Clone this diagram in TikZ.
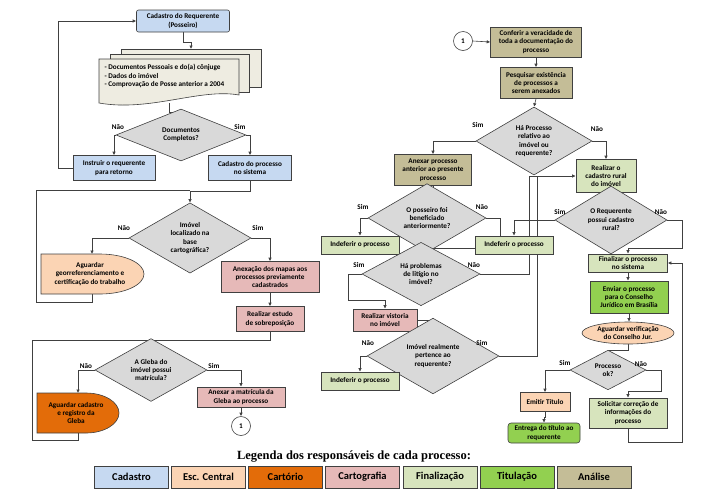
\documentclass[tikz,border=0pt]{standalone}
\usepackage{fontspec}
\setmainfont{Carlito}
\newfontfamily\legfont{Liberation Serif}
\usetikzlibrary{shapes.geometric,arrows.meta,backgrounds}
\definecolor{bd}{HTML}{404040}
\definecolor{cblue}{HTML}{C6D9F1}
\definecolor{cpeach}{HTML}{FBD4B4}
\definecolor{corange}{HTML}{E36C09}
\definecolor{cpink}{HTML}{E6B9B8}
\definecolor{clgreen}{HTML}{D7E4BD}
\definecolor{cgreen}{HTML}{92D050}
\definecolor{ctan}{HTML}{C4BD97}
\definecolor{cgray}{HTML}{D9D9D9}
\definecolor{cdoc}{HTML}{EEECE1}
\begin{document}
\begin{tikzpicture}[x=1pt,y=-1pt,
  every node/.style={font=\fontsize{7.2}{8.4}\selectfont\bfseries, text=black},
  box/.style={draw=bd, line width=0.6pt, align=center, inner sep=1pt},
  dia/.style={diamond, draw=bd, fill=cgray, line width=0.6pt, align=center, inner sep=0pt},
  ln/.style={draw=bd, line width=0.6pt},
  arr/.style={ln, -{Latex[length=3.5pt,width=3.5pt]}},
  lab/.style={font=\fontsize{7.2}{8.4}\selectfont\bfseries},
  leg/.style={draw=bd, line width=0.8pt, minimum width=74pt, minimum height=22pt, font=\fontsize{10.5}{12}\selectfont\bfseries}]
\useasboundingbox (0,0) rectangle (708,499);

% ---------- left column ----------
\node[box, rounded corners=2pt, fill=cblue, minimum width=93pt, minimum height=22pt] (cad) at (183,21) {Cadastro do Requerente\\(Posseiro)};
% document stack
\draw[ln, fill=cdoc] (121,49) rectangle (261,87);
\draw[ln, fill=cdoc] (110,54) rectangle (249,92);
\draw[ln, fill=cdoc] (99,59) -- (239,59) -- (239,95) .. controls (200,88) and (150,112) .. (99,103) -- cycle;
\node[align=left, anchor=west] (docs) at (101,76) {- Documentos Pessoais e do(a) cônjuge\\- Dados do imóvel\\- Comprovação de Posse anterior a 2004};
\coordinate (docsT) at (191,49);
\coordinate (docsB) at (169,103);
\node[dia, minimum width=130pt, minimum height=32pt] (d1) at (181,135) {Documentos\\Completos?};
\node[box, fill=cblue, minimum width=82pt, minimum height=25pt] (instr) at (114,168) {Instruir o requerente\\para retorno};
\node[box, fill=cblue, minimum width=83pt, minimum height=25pt] (cadproc) at (250,168) {Cadastro do processo\\no sistema};
\node[dia, minimum width=122pt, minimum height=62pt] (d2) at (190,238) {Imóvel\\localizado na\\base\\cartográfica?};
\draw[ln, fill=cpeach] (41,254) -- (100,254) arc[start angle=90, end angle=-90, x radius=44pt, y radius=20pt] -- (41,294) -- cycle;
\node[align=center] (aguard) at (90,274) {Aguardar\\georreferenciamento e\\certificação do trabalho};
\coordinate (aguardT) at (92,254);
\coordinate (aguardB) at (92,294);
\node[box, fill=cpink, minimum width=98pt, minimum height=31pt] (anex) at (270,277) {Anexação dos mapas aos\\processos previamente\\cadastrados};
\node[box, fill=cpink, minimum width=68pt, minimum height=25pt] (estudo) at (270,319) {Realizar estudo\\de sobreposição};
\node[dia, minimum width=112pt, minimum height=44pt] (d3) at (151,370) {A Gleba do\\imóvel possui\\matrícula?};
\draw[ln, fill=corange] (37,393) -- (86,393) arc[start angle=90, end angle=-90, x radius=33pt, y radius=20pt] -- (37,433) -- cycle;
\node[align=center] (cart) at (76,413) {Aguardar cadastro\\e registro da\\Gleba};
\coordinate (cartT) at (78,393);
\coordinate (cartB) at (78,433);
\node[box, fill=cpink, minimum width=88pt, minimum height=20pt] (anexm) at (241,397) {Anexar a matrícula da\\Gleba ao processo};
\node[circle, draw=bd, line width=0.6pt, fill=white, minimum size=19pt, inner sep=0pt] (c1) at (241,426) {1};

% ---------- right column ----------
\node[circle, draw=bd, line width=0.6pt, fill=white, minimum size=19pt, inner sep=0pt] (c1b) at (463,41) {1};
\node[box, fill=ctan, minimum width=91pt, minimum height=30pt] (conf) at (536,42) {Conferir a veracidade de\\toda a documentação  do\\processo};
\node[box, fill=ctan, minimum width=72pt, minimum height=31pt] (pesq) at (536,83) {Pesquisar existência\\de processos  a\\serem anexados};
\node[dia, minimum width=116pt, minimum height=57pt] (d4) at (534,141) {Há Processo\\relativo ao\\imóvel ou\\requerente?};
\node[box, fill=ctan, minimum width=77pt, minimum height=31pt] (anexp) at (433,170) {Anexar processo\\anterior ao presente\\processo};
\node[box, fill=clgreen, minimum width=60pt, minimum height=33pt] (realcad) at (606,176) {Realizar o\\cadastro rural\\do imóvel};
\node[dia, minimum width=118pt, minimum height=44pt] (d5) at (427,218) {O posseiro foi\\beneficiado\\anteriormente?};
\node[dia, minimum width=112pt, minimum height=40pt] (d6) at (611,220) {O Requerente\\possui cadastro\\rural?};
\node[box, fill=clgreen, minimum width=78pt, minimum height=18pt] (indef1) at (360,245) {Indeferir o processo};
\node[box, fill=clgreen, minimum width=78pt, minimum height=18pt] (indef2) at (514,245) {Indeferir o processo};
\node[dia, minimum width=118pt, minimum height=41pt] (d7) at (421,274) {Há problemas\\de litígio no\\imóvel?};
\node[box, fill=cpink, minimum width=64pt, minimum height=22pt] (vist) at (385,320) {Realizar vistoria\\no imóvel};
\node[dia, minimum width=132pt, minimum height=40pt] (d8) at (433,356) {Imóvel realmente\\pertence ao\\requerente?};
\node[box, fill=clgreen, minimum width=78pt, minimum height=18pt] (indef3) at (360,381) {Indeferir o processo};
\node[box, fill=clgreen, minimum width=79pt, minimum height=18pt] (final) at (628,263) {Finalizar o processo\\no sistema};
\node[box, fill=cgreen, minimum width=78pt, minimum height=32pt] (env) at (629,297) {Enviar o processo\\para o Conselho\\Jurídico em Brasília};
\node[ellipse, draw=bd, line width=0.6pt, fill=cpeach, minimum width=92pt, minimum height=22pt, inner sep=0pt, align=center] (aguardv) at (628,333) {Aguardar verificação\\do Conselho Jur.};
\node[dia, minimum width=76pt, minimum height=28pt] (d9) at (608,370) {Processo\\ok?};
\node[box, fill=cpeach, minimum width=50pt, minimum height=19pt] (emit) at (545,402) {Emitir Título};
\node[box, rounded corners=3pt, fill=cgreen, minimum width=72pt, minimum height=20pt] (entrega) at (544,433) {Entrega do título ao\\requerente};
\node[box, fill=clgreen, minimum width=78pt, minimum height=30pt] (solic) at (628,413) {Solicitar correção  de\\informações do\\processo};

% labels
\node[lab] at (118,127) {Não};
\node[lab] at (240,127) {Sim};
\node[lab] at (124,228) {Não};
\node[lab] at (258,228) {Sim};
\node[lab] at (86,366) {Não};
\node[lab] at (214,366) {Sim};
\node[lab] at (478,125) {Sim};
\node[lab] at (597,129) {Não};
\node[lab] at (363,207) {Sim};
\node[lab] at (482,207) {Não};
\node[lab] at (560,212) {Sim};
\node[lab] at (661,212) {Não};
\node[lab] at (359,265) {Sim};
\node[lab] at (474,265) {Não};
\node[lab] at (368,343) {Não};
\node[lab] at (482,343) {Sim};
\node[lab] at (565,363) {Sim};
\node[lab] at (641,364) {Não};

% ---------- connectors ----------
\begin{pgfonlayer}{background}
\draw[arr] (instr.west) -- (58,168) |- (cad.west);
\draw[arr] (cad.south) -- ++(0,10) -| (docsT);
\draw[arr] (docsB) -- (169,112) -| (d1.north);
\draw[arr] (d1.west) -| (instr.north);
\draw[arr] (d1.east) -| (cadproc.north);
\draw[arr] (cadproc.south) -- ++(0,10) -| (d2.north);
\draw[ln] (aguardB) -- (92,302) -- (36,302) -- (36,190) -- (190,190);
\draw[arr] (d2.west) -| (aguardT);
\draw[arr] (d2.east) -| (anex.north);
\draw[arr] (anex.south) -- (estudo.north);
\draw[arr] (estudo.south) -- ++(0,8) -| (d3.north);
\draw[ln] (cartB) -- (78,440) -- (32,440) -- (32,340) -- (151,340);
\draw[arr] (d3.west) -| (cartT);
\draw[arr] (d3.east) -| (anexm.north);
\draw[arr] (anexm.south) -- (c1.north);

\draw[arr] (c1b.east) -- (conf.west);
\draw[arr] (conf.south) -- (pesq.north);
\draw[arr] (pesq.south) -- (d4.north);
\draw[arr] (d4.west) -| (anexp.north);
\draw[arr] (d4.east) -| (realcad.north);
\draw[arr] (anexp.south) -- ++(0,5) -| (d5.north);
\draw[arr] (d5.west) -| (indef1.north);
\draw[arr] (d5.east) -- (500,218) -- (500,248) -| (d7.north);
\draw[arr] (realcad.south) -- ++(0,6) -| (d6.north);
\draw[arr] (d6.west) -| (indef2.north);
\draw[arr] (d6.east) -- (682,220) -- (682,248) -| (final.north);
\draw[arr] (d7.east) -- (529,274) |- (realcad.west);
\draw[ln] (d8.east) -- (537,356) -- (537,176);
\draw[arr] (d7.west) -- (348,274) -- (348,300) -| (vist.north);
\draw[arr] (vist.east) -| (d8.north);
\draw[arr] (d8.west) -| (indef3.north);
\draw[arr] (final.south) -- (final.south |- env.north);
\draw[arr] (env.south) -- (env.south |- aguardv.north);
\draw[arr] (aguardv.south) -- ++(0,6) -| (d9.north);
\draw[arr] (d9.west) -| (emit.north);
\draw[arr] (d9.east) -- (661,370) -- (661,391) -| (solic.north);
\draw[arr] (emit.south) -- ++(0,5) -| (entrega.north);
\draw[arr] (solic.south) -- (628,442) -- (682,442) |- (final.east);
\end{pgfonlayer}

% ---------- legend ----------
\node[font=\legfont\bfseries\fontsize{12.5}{14}\selectfont] (legt) at (354,457) {Legenda dos responsáveis de cada processo:};
\node[leg, fill=cblue] (l1) at (131.5,477) {Cadastro};
\node[leg, fill=cpeach] (l2) at (208.5,477) {Esc. Central};
\node[leg, fill=corange] (l3) at (285.5,477) {Cartório};
\node[leg, fill=cpink] (l4) at (362.5,477) {Cartografia};
\node[leg, fill=clgreen] (l5) at (440,477) {Finalização};
\node[leg, fill=cgreen] (l6) at (517,477) {Titulação};
\node[leg, fill=ctan] (l7) at (594,477) {Análise};
\end{tikzpicture}
\end{document}
